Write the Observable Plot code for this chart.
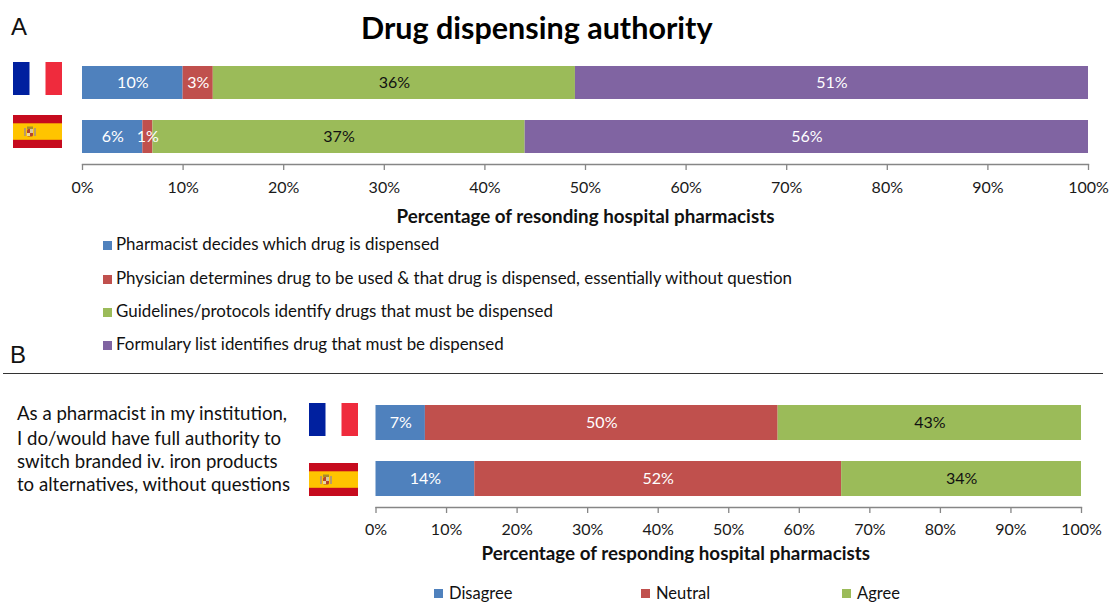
<!DOCTYPE html>
<html>
<head>
<meta charset="utf-8">
<script src="https://cdn.jsdelivr.net/npm/d3@7"></script>
<script src="https://cdn.jsdelivr.net/npm/@observablehq/plot@0.6"></script>
<style>
html,body{margin:0;padding:0;background:#fff;overflow:hidden}
#root{position:relative;width:1109px;height:602px;font-family:Lato,"Open Sans",sans-serif;color:#111}
#root>*{position:absolute}
.t{white-space:nowrap;line-height:1;font-size:16px;transform:translateY(-50%)}
.sq{width:9px;height:9px}
.flag{width:49px;height:33px}
</style>
</head>
<body>
<div id="root"></div>
<script>
const countries = ["France", "Spain"];
const ticks = [0,10,20,30,40,50,60,70,80,90,100];

const seriesA = [
  "Pharmacist decides which drug is dispensed",
  "Physician determines drug to be used & that drug is dispensed, essentially without question",
  "Guidelines/protocols identify drugs that must be dispensed",
  "Formulary list identifies drug that must be dispensed"
];
const franceA = [10, 3, 36, 51];
const spainA = [6, 1, 37, 56];
const colorsA = ["#4F81BD", "#C0504D", "#9BBB59", "#8064A2"];

const seriesB = ["Disagree", "Neutral", "Agree"];
const franceB = [7, 50, 43];
const spainB = [14, 52, 34];
const colorsB = ["#4F81BD", "#C0504D", "#9BBB59"];

const titleText = "Drug dispensing authority";
const labelA = "Percentage of resonding hospital pharmacists";
const labelB = "Percentage of responding hospital pharmacists";
const statement = [
  "As a pharmacist in my institution,",
  "I do/would have full authority to",
  "switch branded iv. iron products",
  "to alternatives, without questions"
];

const root = document.getElementById("root");

function tidy(series, fr, es) {
  return [
    ...series.map((s, i) => ({country: countries[0], series: s, value: fr[i]})),
    ...series.map((s, i) => ({country: countries[1], series: s, value: es[i]}))
  ];
}

function drawPanel(cfg) {
  const {data, series, colors, label, top, height, marginTop, marginBottom, marginLeft, marginRight, labelDx, labelDy, tickPadding} = cfg;
  const textColor = d => d.series === series[2] ? "#111" : "#fff";
  const svg = Plot.plot({
    width: 1109, height, marginTop, marginBottom, marginLeft, marginRight,
    style: {fontFamily: "Lato, 'Open Sans', sans-serif", fontSize: "16px", background: "transparent"},
    x: {domain: [0, 100]},
    y: {domain: countries, paddingInner: 0.38, paddingOuter: 0.19, axis: null, label: null},
    color: {domain: series, range: colors},
    marks: [
      Plot.barX(data, {x: "value", y: "country", fill: "series", order: null}),
      Plot.text(data, Plot.stackX({x: "value", y: "country", text: d => d.value + "%", z: "series", order: null, fontSize: 16, fill: textColor})),
      Plot.frame({anchor: "bottom", stroke: "#868686", strokeWidth: 1.3}),
      Plot.axisX({
        ticks, tickSize: 6, tickPadding, stroke: "#868686", strokeWidth: 1.3,
        tickFormat: d => d + "%", label: null, fontSize: 16, fill: "#1a1a1a"
      }),
      Plot.text([label], {
        x: () => 50, frameAnchor: "bottom", dx: labelDx, dy: labelDy, fontWeight: "bold", fontSize: 18.8, fill: "#111"
      })
    ]
  });
  svg.style.left = "0px";
  svg.style.top = top + "px";
  return svg;
}

root.append(drawPanel({
  data: tidy(seriesA, franceA, spainA), series: seriesA, colors: colorsA, label: labelA,
  top: 0, height: 230, marginTop: 54.5, marginBottom: 66, marginLeft: 82, marginRight: 21,
  labelDx: 0, labelDy: 58, tickPadding: 11
}));
root.append(drawPanel({
  data: tidy(seriesB, franceB, spainB), series: seriesB, colors: colorsB, label: labelB,
  top: 374, height: 190, marginTop: 20.5, marginBottom: 57, marginLeft: 375.5, marginRight: 28,
  labelDx: -53, labelDy: 52, tickPadding: 10
}));

function text(str, left, cy, style = {}) {
  const el = document.createElement("div");
  el.className = "t";
  el.textContent = str;
  el.style.left = left + "px";
  el.style.top = cy + "px";
  Object.assign(el.style, style);
  root.append(el);
  return el;
}
function square(left, cy, color) {
  const el = document.createElement("div");
  el.className = "sq";
  el.style.left = left + "px";
  el.style.top = (cy - 4.5) + "px";
  el.style.background = color;
  root.append(el);
}
function flag(kind, left, top) {
  const el = document.createElement("div");
  el.className = "flag";
  el.style.left = left + "px";
  el.style.top = top + "px";
  el.innerHTML = kind === "fr"
    ? `<svg width="49" height="33" viewBox="0 0 49 33" style="display:block"><rect width="16.5" height="33" fill="#00209F"/><rect x="32.5" width="16.5" height="33" fill="#EF2B3D"/></svg>`
    : `<svg width="49" height="33" viewBox="0 0 49 33" style="display:block"><rect width="49" height="33" fill="#C60B1E"/><rect y="8.3" width="49" height="16.5" fill="#FFC400"/><rect x="11" y="13" width="2" height="8" fill="#B89A6A"/><rect x="21" y="13" width="2" height="8" fill="#B89A6A"/><rect x="14" y="11.5" width="6" height="2.5" fill="#A88B2C"/><rect x="14" y="14" width="6" height="7.5" rx="1.5" fill="#B5452C"/><rect x="17" y="14" width="3" height="4" fill="#D8C8A0"/><rect x="14" y="18" width="3" height="3" fill="#E8D9A0"/></svg>`;
  root.append(el);
}

text(titleText, 361, 27, {fontSize: "30.5px", fontWeight: "700", color: "#000"});
text("A", 11, 27, {fontFamily: "'Liberation Sans',Arial,sans-serif", fontSize: "24px"});
text("B", 10, 355, {fontFamily: "'Liberation Sans',Arial,sans-serif", fontSize: "24px"});

const rule = document.createElement("div");
rule.style.cssText = "left:3px;top:373px;width:1100px;height:1px;background:#333";
root.append(rule);

flag("fr", 13, 62); flag("es", 13, 115);
flag("fr", 309, 403); flag("es", 309, 463);

const legendAY = [244, 278, 311, 344];
seriesA.forEach((s, i) => {
  square(103, legendAY[i] + 1, colorsA[i]);
  text(s, 116, legendAY[i], {fontSize: "16.92px"});
});
const legendBX = [434, 641, 842];
seriesB.forEach((s, i) => {
  square(legendBX[i], 593, colorsB[i]);
  text(s, legendBX[i] + 15, 593, {fontSize: "16.5px"});
});
const statementY = [413, 438, 461, 484];
statement.forEach((s, i) => text(s, 17, statementY[i], {fontSize: "18.6px"}));
</script>
</body>
</html>
